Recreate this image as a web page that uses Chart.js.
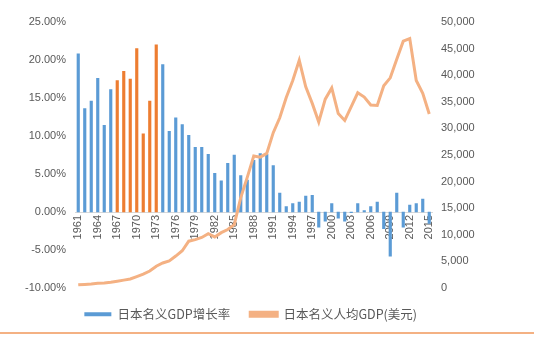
<!DOCTYPE html>
<html>
<head>
<meta charset="utf-8">
<script src="https://cdn.jsdelivr.net/npm/chart.js@4"></script>
<style>
    html, body { margin: 0; padding: 0; background: #fff; }
    #wrap { position: relative; width: 534px; height: 339px; }
    #bottomLine { position: absolute; left: 0; top: 332px; width: 534px; height: 2px; background: #f4b183; }
</style>
</head>
<body>
<div id="wrap">
    <canvas id="chart" width="534" height="339"></canvas>
    <div id="bottomLine"></div>
</div>
<script>
const years = [
    "1961", "1962", "1963", "1964", "1965", "1966", "1967", "1968", "1969", "1970",
    "1971", "1972", "1973", "1974", "1975", "1976", "1977", "1978", "1979", "1980",
    "1981", "1982", "1983", "1984", "1985", "1986", "1987", "1988", "1989", "1990",
    "1991", "1992", "1993", "1994", "1995", "1996", "1997", "1998", "1999", "2000",
    "2001", "2002", "2003", "2004", "2005", "2006", "2007", "2008", "2009", "2010",
    "2011", "2012", "2013", "2014", "2015"
];

// 日本名义GDP增长率 (%)
const growthRate = [
    20.8, 13.6, 14.6, 17.6, 11.4, 16.1, 17.3, 18.5, 17.5, 21.5,
    10.3, 14.6, 22.0, 19.4, 10.6, 12.4, 11.5, 10.1, 8.5, 8.5,
    7.6, 5.1, 4.1, 6.4, 7.5, 4.8, 4.2, 6.8, 7.7, 7.6,
    6.1, 2.5, 0.7, 1.1, 1.3, 2.1, 2.2, -2.0, -1.2, 1.1,
    -0.8, -1.2, -0.1, 1.1, 0.2, 0.7, 1.3, -2.2, -5.8, 2.5,
    -2.0, 0.9, 1.1, 1.7, -1.5
];

// 日本名义人均GDP (美元)
const gdpPerCapita = [
    600, 680, 760, 880, 960, 1100, 1280, 1480, 1700, 2150,
    2600, 3200, 4100, 4700, 5100, 6000, 7000, 8800, 9100, 9500,
    10200, 9600, 10400, 11000, 11900, 17000, 20800, 24800, 24600, 25300,
    29200, 32000, 35800, 39000, 42800, 37800, 34700, 31200, 35500, 37600,
    32800, 31500, 34100, 36700, 35900, 34400, 34300, 38000, 39500, 43000,
    46400, 46900, 39000, 36600, 32700
];

// 高速增长期 (1967-1973) 用橙色标出
const highlightYears = ["1967", "1968", "1969", "1970", "1971", "1972", "1973"];

const barColors = years.map(y => highlightYears.includes(y) ? "#ed7d31" : "#5b9bd5");
const textColor = "#595959";

new Chart(document.getElementById("chart"), {
    data: {
        labels: years,
        datasets: [{
            type: "bar",
            label: "日本名义GDP增长率",
            data: growthRate,
            backgroundColor: barColors,
            barThickness: 2.5,
            yAxisID: "y",
            order: 2
        }, {
            type: "line",
            label: "日本名义人均GDP(美元)",
            data: gdpPerCapita,
            borderColor: "#f4b183",
            backgroundColor: "#f4b183",
            borderWidth: 3,
            pointRadius: 0,
            tension: 0,
            yAxisID: "y1",
            order: 1
        }]
    },
    options: {
        responsive: false,
        animation: false,
        layout: { padding: { top: 22, bottom: 8.5, left: 0, right: 27 } },
        plugins: {
            tooltip: { enabled: false },
            legend: {
                position: "bottom",
                labels: {
                    boxWidth: 27,
                    boxHeight: 4,
                    padding: 20,
                    color: textColor,
                    font: { family: "'Noto Sans CJK SC', sans-serif", size: 12.5 },
                    sort: (a, b) => a.datasetIndex - b.datasetIndex,
                    generateLabels: chart => {
                        const items = Chart.defaults.plugins.legend.labels.generateLabels(chart);
                        items[0].text += "  "; // 两项之间留宽一点
                        return items;
                    }
                }
            }
        },
        scales: {
            x: {
                position: { y: 0 },   // 横轴放在 0% 处
                offset: true,
                grid: { display: false, drawTicks: false },
                border: { color: "#d9d9d9" },
                ticks: {
                    autoSkip: false,
                    minRotation: 90,
                    maxRotation: 90,
                    padding: 3,
                    color: textColor,
                    font: { family: "'Liberation Sans', sans-serif", size: 11 },
                    callback: (v, i) => i % 3 === 0 ? years[i] : ""
                }
            },
            y: {
                position: "left",
                min: -10,
                max: 25,
                grid: { display: false, drawTicks: false },
                border: { display: false },
                ticks: {
                    stepSize: 5,
                    padding: 9,
                    color: textColor,
                    font: { family: "'Liberation Sans', sans-serif", size: 11 },
                    callback: v => v.toFixed(2) + "%"
                },
                afterFit: scale => { scale.width = 75; }
            },
            y1: {
                position: "right",
                min: 0,
                max: 50000,
                grid: { display: false, drawTicks: false },
                border: { display: false },
                ticks: {
                    stepSize: 5000,
                    padding: 8.5,
                    color: textColor,
                    font: { family: "'Liberation Sans', sans-serif", size: 11 },
                    callback: v => v.toLocaleString("en-US")
                },
                afterFit: scale => { scale.width = 74.5; }
            }
        }
    }
});
</script>
</body>
</html>
